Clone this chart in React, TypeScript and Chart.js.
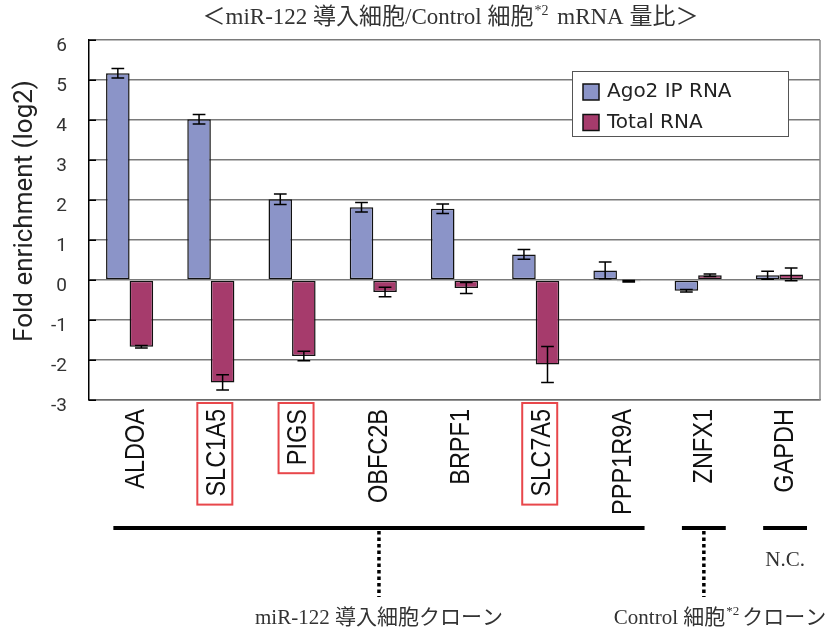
import React, { useEffect, useRef } from 'react';
import { Chart, registerables } from 'chart.js';

Chart.register(...registerables);

// Genes on the x axis, in plotted order
const GENES = ['ALDOA', 'SLC1A5', 'PIGS', 'OBFC2B', 'BRPF1', 'SLC7A5', 'PPP1R9A', 'ZNFX1', 'GAPDH'];
// Genes whose names are framed in red
const BOXED_GENES = ['SLC1A5', 'PIGS', 'SLC7A5'];

// log2 fold enrichment and error (±) per gene
const AGO2_IP = [5.17, 4.02, 2.02, 1.82, 1.78, 0.64, 0.24, -0.27, 0.12];
const AGO2_IP_ERR = [0.12, 0.12, 0.13, 0.12, 0.12, 0.12, 0.21, 0.03, 0.1];
const TOTAL_RNA = [-1.67, -2.56, -1.9, -0.3, -0.2, -2.11, -0.03, 0.12, 0.14];
const TOTAL_RNA_ERR = [0.03, 0.19, 0.12, 0.12, 0.14, 0.45, 0.02, 0.03, 0.16];

const SERIES_NAMES = ['Ago2 IP RNA', 'Total RNA'];
const SERIES_COLORS = ['#8b94c8', '#a63b6c'];

const Y_MIN = -3;
const Y_MAX = 6;
const Y_STEP = 1;
const Y_TITLE = 'Fold enrichment (log2)';

// Rich-text pieces: odd entries are superscripts
const TITLE_PARTS = ['＜miR-122 導入細胞/Control 細胞', '*2', ' mRNA 量比＞'];

// Clone groups drawn under the gene names
const GROUP_LABELS = [['miR-122 導入細胞クローン'], ['Control 細胞', '*2', 'クローン'], ['N.C.']];
const GROUP_FIRST = [0, 7, 8];
const GROUP_LAST = [6, 7, 8];
const GROUP_DOTTED = [true, true, false];

const SERIF = '"Liberation Serif", "Noto Sans CJK JP", serif';
const TEXT_GREY = '#333';

function richWidth(ctx: CanvasRenderingContext2D, parts: string[], size: number) {
  let w = 0;
  parts.forEach((p, i) => {
    ctx.font = `${i % 2 ? Math.round(size * 0.62) : size}px ${SERIF}`;
    w += ctx.measureText(p).width + (i % 2 ? 4 : 0);
  });
  return w;
}

function drawRich(ctx: CanvasRenderingContext2D, parts: string[], x: number, y: number, size: number) {
  let cx = x;
  ctx.textAlign = 'left';
  ctx.textBaseline = 'middle';
  parts.forEach((p, i) => {
    const sup = i % 2 === 1;
    ctx.font = `${sup ? Math.round(size * 0.62) : size}px ${SERIF}`;
    ctx.fillText(p, cx + (sup ? 1 : 0), sup ? y - size * 0.3 : y);
    cx += ctx.measureText(p).width + (sup ? 4 : 0);
  });
}

const decorations = {
  id: 'decorations',
  afterDatasetsDraw(chart: any) {
    const ctx: CanvasRenderingContext2D = chart.ctx;
    const y = chart.scales.y;
    ctx.save();
    ctx.strokeStyle = '#000';
    ctx.lineWidth = 1.5;
    chart.data.datasets.forEach((ds: any, d: number) => {
      const meta = chart.getDatasetMeta(d);
      meta.data.forEach((bar: any, i: number) => {
        const v = ds.data[i];
        const e = ds.errors[i];
        const top = y.getPixelForValue(v + e);
        const bot = y.getPixelForValue(v - e);
        const cap = bar.width * 0.27;
        ctx.beginPath();
        ctx.moveTo(bar.x, top);
        ctx.lineTo(bar.x, bot);
        ctx.moveTo(bar.x - cap, top);
        ctx.lineTo(bar.x + cap, top);
        ctx.moveTo(bar.x - cap, bot);
        ctx.lineTo(bar.x + cap, bot);
        ctx.stroke();
      });
    });
    ctx.restore();
  },
  afterDraw(chart: any) {
    const ctx: CanvasRenderingContext2D = chart.ctx;
    const area = chart.chartArea;
    const xs = chart.scales.x;
    const ys = chart.scales.y;
    ctx.save();

    // right frame edge
    ctx.strokeStyle = '#8a8a8a';
    ctx.lineWidth = 1.5;
    ctx.beginPath();
    ctx.moveTo(area.right, area.top);
    ctx.lineTo(area.right, area.bottom);
    ctx.stroke();

    // inward tick marks on the value axis
    ctx.strokeStyle = '#000';
    ctx.lineWidth = 1.5;
    ys.ticks.forEach((t: any) => {
      const py = Math.round(ys.getPixelForValue(t.value)) + 0.25;
      ctx.beginPath();
      ctx.moveTo(area.left, py);
      ctx.lineTo(area.left + 7, py);
      ctx.stroke();
    });

    // value-axis title
    ctx.save();
    ctx.translate(25, area.top + 171);
    ctx.rotate(-Math.PI / 2);
    ctx.fillStyle = '#222';
    ctx.font = '26px Roboto';
    ctx.textAlign = 'center';
    ctx.textBaseline = 'middle';
    ctx.fillText(Y_TITLE, 0, 0);
    ctx.restore();

    // gene names, rotated and condensed
    const labelTop = area.bottom + 9;
    chart.data.labels.forEach((label: string, i: number) => {
      const cx = xs.getPixelForValue(i) + 4;
      ctx.save();
      ctx.translate(cx, labelTop);
      ctx.rotate(-Math.PI / 2);
      ctx.scale(0.84, 1);
      ctx.font = '28px "Liberation Sans", Arial, sans-serif';
      ctx.fillStyle = '#111';
      ctx.textAlign = 'right';
      ctx.textBaseline = 'alphabetic';
      ctx.fillText(label, 0, 10);
      const len = ctx.measureText(label).width * 0.84;
      ctx.restore();
      if (BOXED_GENES.includes(label)) {
        ctx.strokeStyle = '#e8474b';
        ctx.lineWidth = 2;
        ctx.strokeRect(cx - 17.5, labelTop - 6, 35, len + 14);
      }
    });

    // legend
    const lx = area.right - 248;
    const ly = area.top + 31;
    ctx.fillStyle = '#fff';
    ctx.fillRect(lx, ly, 216, 65);
    ctx.strokeStyle = '#555';
    ctx.lineWidth = 1;
    ctx.strokeRect(lx + 0.5, ly + 0.5, 216, 65);
    chart.data.datasets.forEach((ds: any, d: number) => {
      const rowY = ly + 21 + d * 30.5;
      ctx.fillStyle = ds.backgroundColor;
      ctx.fillRect(lx + 11, rowY - 8, 16, 16);
      ctx.strokeStyle = '#111';
      ctx.lineWidth = 1.5;
      ctx.strokeRect(lx + 11, rowY - 8, 16, 16);
      ctx.fillStyle = '#222';
      ctx.font = '20px "DejaVu Sans"';
      ctx.textAlign = 'left';
      ctx.textBaseline = 'middle';
      ctx.fillText(ds.label, lx + 35, rowY);
    });

    // chart title
    ctx.fillStyle = TEXT_GREY;
    const tw = richWidth(ctx, TITLE_PARTS, 23);
    drawRich(ctx, TITLE_PARTS, (area.left + area.right) / 2 - tw / 2 - 4, 18, 23);

    // clone group brackets
    GROUP_LABELS.forEach((parts, g) => {
      const x0 = xs.getPixelForValue(GROUP_FIRST[g] - 0.2);
      const x1 = xs.getPixelForValue(GROUP_LAST[g] + 0.34);
      const mid = (x0 + x1) / 2;
      ctx.strokeStyle = '#000';
      ctx.lineWidth = 4;
      ctx.setLineDash([]);
      ctx.beginPath();
      ctx.moveTo(x0, 528);
      ctx.lineTo(x1, 528);
      ctx.stroke();
      ctx.fillStyle = TEXT_GREY;
      const w = richWidth(ctx, parts, 21);
      if (GROUP_DOTTED[g]) {
        ctx.lineWidth = 3.5;
        ctx.setLineDash([3.5, 3]);
        ctx.beginPath();
        ctx.moveTo(mid, 531);
        ctx.lineTo(mid, 597);
        ctx.stroke();
        ctx.setLineDash([]);
        const start = GROUP_FIRST[g] === GROUP_LAST[g] ? mid - 90 : mid - w / 2;
        drawRich(ctx, parts, start, 618, 21);
      } else {
        drawRich(ctx, parts, mid - w / 2, 560, 21);
      }
    });

    ctx.restore();
  },
};

export default function App() {
  const canvasRef = useRef<HTMLCanvasElement | null>(null);

  useEffect(() => {
    if (!canvasRef.current) return;
    const chart = new Chart(canvasRef.current, {
      type: 'bar',
      data: {
        labels: GENES,
        datasets: [
          {
            label: SERIES_NAMES[0],
            data: AGO2_IP,
            errors: AGO2_IP_ERR,
            backgroundColor: SERIES_COLORS[0],
            borderColor: '#111',
            borderWidth: 1.5,
            borderSkipped: false,
          } as any,
          {
            label: SERIES_NAMES[1],
            data: TOTAL_RNA,
            errors: TOTAL_RNA_ERR,
            backgroundColor: SERIES_COLORS[1],
            borderColor: '#111',
            borderWidth: 1.5,
            borderSkipped: false,
          } as any,
        ],
      },
      options: {
        responsive: false,
        animation: false,
        devicePixelRatio: 1,
        datasets: { bar: { barPercentage: 1, categoryPercentage: 0.58 } },
        layout: { padding: { left: 0, top: 40, right: 16, bottom: 0 } },
        plugins: { legend: { display: false }, title: { display: false }, tooltip: { enabled: false } },
        scales: {
          x: {
            grid: { display: false },
            border: { display: true, color: '#6a6a6a', width: 1.5 },
            ticks: { display: false },
            afterFit: (s: any) => {
              s.height = 233;
            },
          },
          y: {
            min: Y_MIN,
            max: Y_MAX,
            grid: { color: '#7a7a7a', lineWidth: 1.5, drawTicks: false },
            border: { display: true, color: '#000', width: 1.5 },
            ticks: {
              stepSize: Y_STEP,
              padding: 22,
              labelOffset: 6,
              color: '#333',
              font: { family: 'Roboto', size: 19 },
            },
            afterFit: (s: any) => {
              s.width = 89;
            },
          },
        },
      },
      plugins: [decorations],
    });
    return () => chart.destroy();
  }, []);

  return (
    <div style={{ position: 'absolute', left: 0, top: 0, width: 836, height: 633, background: '#fff' }}>
      <canvas ref={canvasRef} width={836} height={633} style={{ display: 'block' }} />
    </div>
  );
}
